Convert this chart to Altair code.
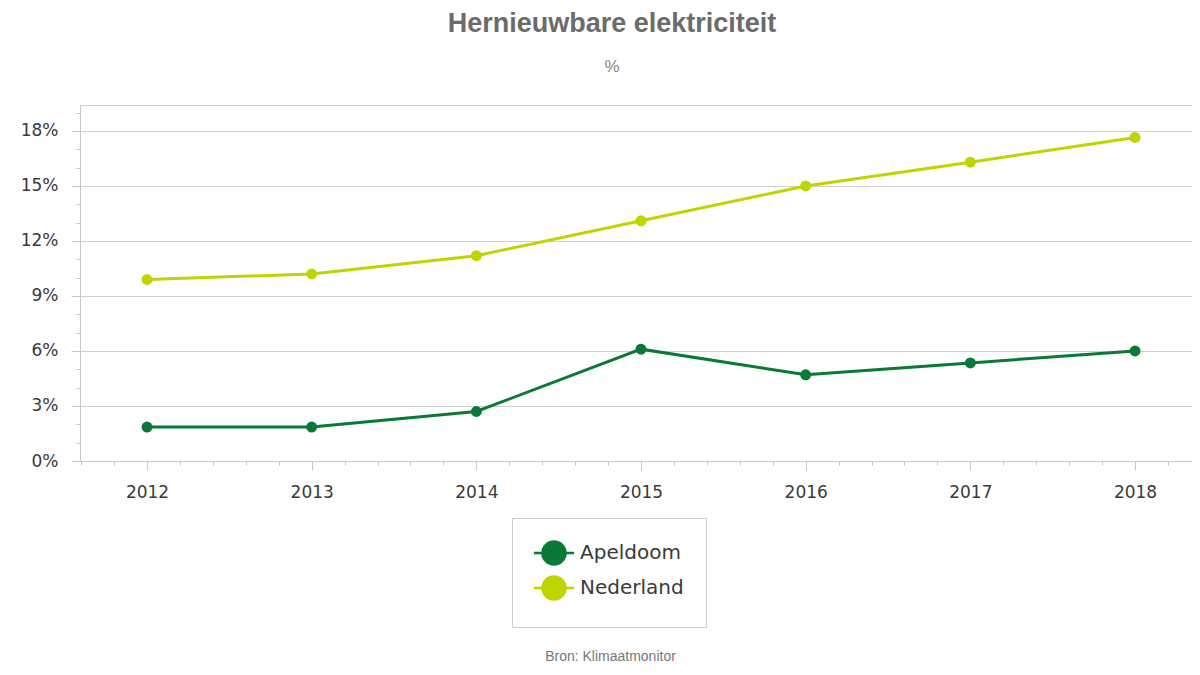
import altair as alt
import pandas as pd

years = [2012, 2013, 2014, 2015, 2016, 2017, 2018]
apeldoorn = [1.85, 1.85, 2.7, 6.1, 4.7, 5.35, 6.0]
nederland = [9.9, 10.2, 11.2, 13.1, 15.0, 16.3, 17.65]
series_names = ["Apeldoom", "Nederland"]
series_colors = ["#087a35", "#c0d400"]

rows = []
for y, a, n in zip(years, apeldoorn, nederland):
    rows.append({"year": y, "value": a, "series": series_names[0]})
    rows.append({"year": y, "value": n, "series": series_names[1]})
df = pd.DataFrame(rows)

x_ticks = [round(2011.6 + 0.2 * i, 1) for i in range(35)]
y_ticks = list(range(0, 20))

axis_font = "DejaVu Sans"
label_color = "#3a3a3a"
grid_color = "#d0d0d0"

legend_path = "M-1.75,0L1.75,0M1,0A1,1,0,1,1,-1,0A1,1,0,1,1,1,0Z"

x_axis = alt.Axis(
    values=x_ticks,
    labelExpr="abs(datum.value - round(datum.value)) < 0.01 ? format(datum.value, 'd') : ''",
    tickSize={"condition": {"test": "abs(datum.value - round(datum.value)) < 0.01", "value": 9}, "value": 4},
    tickColor="#c8c8c8",
    domainColor="#c8c8c8",
    grid=False,
    labelFont=axis_font,
    labelFontSize=17,
    labelColor=label_color,
    labelPadding=14,
    labelOverlap=False,
    title="Bron: Klimaatmonitor",
    titleFont="Liberation Sans",
    titleFontSize=14,
    titleFontWeight="normal",
    titleColor="#777777",
    titleX=530,
    titleY=199,
    titleBaseline="alphabetic",
)

y_axis = alt.Axis(
    values=y_ticks,
    labelExpr="datum.value % 3 === 0 ? datum.value + '%' : ''",
    tickSize={"condition": {"test": "datum.value % 3 === 0", "value": 9}, "value": 4},
    gridOpacity={"condition": {"test": "datum.value % 3 === 0", "value": 1}, "value": 0},
    gridColor=grid_color,
    tickColor="#c8c8c8",
    domainColor="#c8c8c8",
    labelFont=axis_font,
    labelFontSize=17,
    labelColor=label_color,
    labelPadding=13,
    labelOverlap=False,
    title=None,
)

chart = (
    alt.Chart(df)
    .mark_line(strokeWidth=3, point=alt.OverlayMarkDef(filled=True, size=120, opacity=1))
    .encode(
        x=alt.X("year:Q", scale=alt.Scale(domain=[2011.593, 2018.346], nice=False, zero=False), axis=x_axis),
        y=alt.Y("value:Q", scale=alt.Scale(domain=[0, 19.418], nice=False), axis=y_axis),
        color=alt.Color(
            "series:N",
            scale=alt.Scale(domain=series_names, range=series_colors),
            legend=alt.Legend(
                title=None,
                orient="none",
                legendX=432,
                legendY=413,
                direction="vertical",
                symbolType=legend_path,
                symbolSize=529,
                symbolStrokeWidth=2.5,
                symbolOffset=7,
                labelFont=axis_font,
                labelFontSize=20,
                labelColor=label_color,
                labelOffset=13,
                rowPadding=1,
                padding=22,
                strokeColor="#cccccc",
                fillColor="white",
            ),
        ),
    )
    .properties(
        width=1112,
        height=356,
        autosize=alt.AutoSizeParams(type="none"),
        padding={"left": 72, "top": 97, "right": 0, "bottom": 206},
        title=alt.TitleParams(
            text="Hernieuwbare elektriciteit",
            subtitle="%",
            font="Liberation Sans",
            fontSize=27,
            fontWeight="bold",
            color="#6b6b6b",
            subtitleFont="Liberation Sans",
            subtitleFontSize=17,
            subtitleColor="#888888",
            subtitlePadding=21,
            anchor="middle",
            dx=-24,
            offset=28,
        ),
    )
    .configure_view(stroke=grid_color, strokeWidth=1)
)

chart.save("out.html", embed_options={"renderer": "svg", "actions": False})
